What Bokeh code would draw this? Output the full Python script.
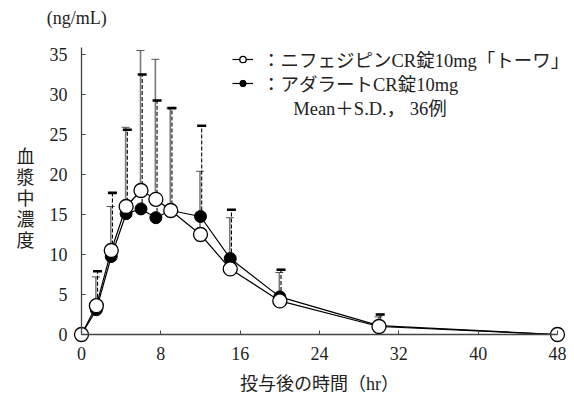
from bokeh.plotting import figure
from bokeh.models import (ColumnDataSource, Range1d, FixedTicker, Legend, LegendItem,
                          Whisker, TeeHead, Label)
from bokeh.transform import dodge
from bokeh.embed import file_html
from bokeh.resources import INLINE

# ---- data ----
time_hr = [0, 1.5, 3, 4.5, 6, 7.5, 9, 12, 15, 20, 30, 48]
towa_mean = [0, 3.6, 10.5, 16.0, 18.0, 16.9, 15.5, 12.5, 8.2, 4.2, 1.0, 0]
towa_sd = [0, 3.6, 5.5, 9.9, 17.5, 17.5, 12.8, 7.9, 6.4, 3.55, 1.2, 0]
adalat_mean = [0, 3.1, 9.75, 15.1, 15.7, 14.6, 15.5, 14.75, 9.5, 4.7, 1.1, 0]
adalat_sd = [0, 4.8, 7.95, 10.5, 16.8, 14.65, 12.8, 11.35, 6.1, 3.4, 1.4, 0]
x_ticks = [0, 8, 16, 24, 32, 40, 48]
y_ticks = [0, 5, 10, 15, 20, 25, 30, 35]
label_towa = "：ニフェジピンCR錠10mg「トーワ」"
label_adalat = "：アダラートCR錠10mg"
note_text = "Mean＋S.D.， 36例"
y_unit = "(ng/mL)"
y_title = "血\n漿\n中\n濃\n度"
x_title = "投与後の時間（hr）"

FONT = "Liberation Serif, Noto Sans CJK JP"
FS = "18px"
FS_LEG = "18.5px"
TXT = "#222222"

def sd_source(mean, sd):
    t = [x for x, s in zip(time_hr, sd) if s > 0]
    m = [v for v, s in zip(mean, sd) if s > 0]
    top = [v + s for v, s in zip(mean, sd) if s > 0]
    return ColumnDataSource(dict(t=t, mean=m, top=top))

towa_src = ColumnDataSource(dict(t=time_hr, y=towa_mean))
adalat_src = ColumnDataSource(dict(t=time_hr, y=adalat_mean))

# frame covers the whole canvas; axes are pinned at the data origin
p = figure(width=574, height=400, output_backend="svg", toolbar_location=None,
           x_range=Range1d(-8.168, 49.714), y_range=Range1d(-8.25, 41.75),
           min_border=0, min_border_left=0, min_border_right=0, min_border_top=0, min_border_bottom=0)
p.outline_line_color = None
p.xgrid.visible = False
p.ygrid.visible = False
p.background_fill_color = "white"

# error bars (behind markers)
w_towa = Whisker(source=sd_source(towa_mean, towa_sd), base=dodge("t", -0.05), upper="top", lower="mean",
                 dimension="height", line_color="#7a7a7a", line_width=1.6,
                 upper_head=TeeHead(size=8, line_width=1, line_color="#555555"), lower_head=None,
                 level="underlay")
w_adalat = Whisker(source=sd_source(adalat_mean, adalat_sd), base=dodge("t", 0.12), upper="top", lower="mean",
                   dimension="height", line_color="black", line_width=1.1, line_dash="4 2",
                   upper_head=TeeHead(size=9, line_width=2.6, line_color="black"), lower_head=None,
                   level="underlay")
p.add_layout(w_towa)
p.add_layout(w_adalat)

l_ad = p.line("t", "y", source=adalat_src, line_color="black", line_width=1.2)
s_ad = p.scatter("t", "y", source=adalat_src, size=12, fill_color="black", line_color="black")
l_tw = p.line("t", "y", source=towa_src, line_color="black", line_width=1.2)
s_tw = p.scatter("t", "y", source=towa_src, size=14, fill_color="white", line_color="black", line_width=1.3)

# axes
for ax in (p.xaxis[0], p.yaxis[0]):
    ax.axis_line_color = "#444444"
    ax.axis_line_width = 1.3
    ax.major_tick_line_color = "#444444"
    ax.major_tick_in = 4
    ax.major_tick_out = 0
    ax.minor_tick_line_color = None
    ax.major_label_text_font = FONT
    ax.major_label_text_font_size = FS
    ax.major_label_text_color = TXT
p.xaxis.fixed_location = 0
p.yaxis.fixed_location = 0
p.xaxis.bounds = (0, 48)
p.yaxis.bounds = (0, 35.9)
p.xaxis.ticker = FixedTicker(ticks=x_ticks)
p.yaxis.ticker = FixedTicker(ticks=y_ticks)
p.xaxis.major_label_standoff = 12
p.yaxis.major_label_standoff = 14

# legend: one single-row legend per series for exact row placement
leg_style = dict(padding=0, margin=0, spacing=0, border_line_color=None, background_fill_alpha=0,
                 glyph_width=21, glyph_height=16, label_height=20, label_standoff=9,
                 label_text_font=FONT, label_text_font_size=FS_LEG, label_text_color=TXT)
p.add_layout(Legend(items=[LegendItem(label=label_towa, renderers=[l_tw, s_tw])],
                    location=(232, 328), **leg_style))
p.add_layout(Legend(items=[LegendItem(label=label_adalat, renderers=[l_ad, s_ad])],
                    location=(232, 304), **leg_style))

common = dict(text_font=FONT, text_font_size=FS, text_color=TXT)
p.add_layout(Label(x=21.35, y=28.2, text=note_text, text_align="left", text_baseline="middle",
                   text_font=FONT, text_font_size=FS_LEG, text_color=TXT))
p.add_layout(Label(x=-3.5, y=39.6, text=y_unit, text_align="left", text_baseline="middle", **common))
p.add_layout(Label(x=-5.65, y=17.0, text=y_title, text_align="center", text_baseline="middle",
                   text_line_height=1.05, **common))
p.add_layout(Label(x=24, y=-6.15, text=x_title, text_align="center", text_baseline="middle", **common))

open("out.html", "w").write(file_html(p, INLINE))
